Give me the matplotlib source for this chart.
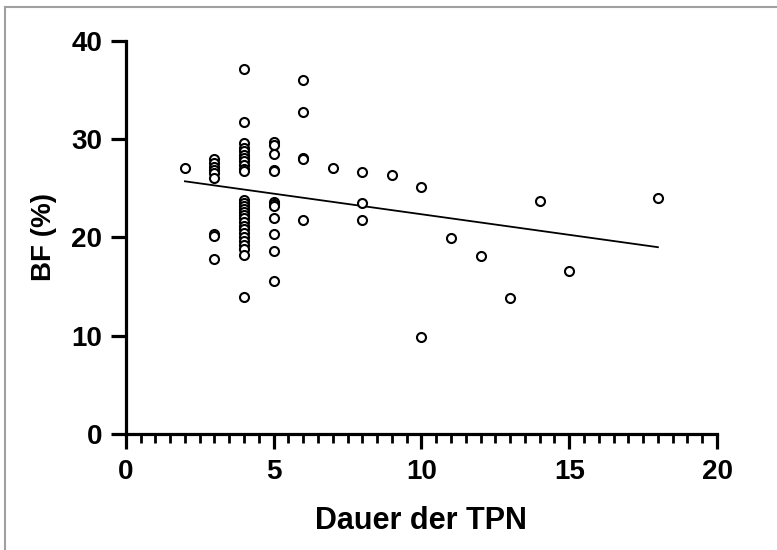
import matplotlib
matplotlib.use('Agg')
import matplotlib.pyplot as plt
from matplotlib.lines import Line2D
from matplotlib.ticker import MultipleLocator

plt.rcParams['font.family'] = ['Liberation Sans', 'DejaVu Sans']
plt.rcParams['font.weight'] = 'bold'

# Dauer der TPN (x) und BF % (y)
dauer = ([2] +
         [3] * 9 +
         [4] * 28 +
         [5] * 12 +
         [6] * 5 +
         [7] + [8] * 3 + [9] + [10] * 2 + [11, 12, 13, 14, 15, 18])
bf = ([27.1] +
      [28.0, 27.6, 27.2, 26.8, 26.5, 26.0, 20.3, 20.1, 17.8] +
      [37.1, 31.7, 29.6, 29.1, 28.8, 28.4, 28.1, 27.8, 27.4, 27.0, 26.7,
       23.8, 23.5, 23.2, 22.9, 22.6, 22.3, 22.0, 21.6, 21.2, 20.8, 20.4,
       20.0, 19.6, 19.2, 18.8, 18.2, 13.9] +
      [29.7, 29.4, 28.5, 26.9, 26.7, 23.6, 23.4, 23.2, 22.0, 20.3, 18.6, 15.6] +
      [36.0, 32.7, 28.1, 28.0, 21.8] +
      [27.1] + [26.6, 23.5, 21.8] + [26.3] + [25.1, 9.9] +
      [19.9, 18.1, 13.8, 23.7, 16.6, 24.0])

fit_x = [2, 18]
fit_y = [25.7, 19.0]

x_ticks = [0, 5, 10, 15, 20]
y_ticks = [0, 10, 20, 30, 40]

fig = plt.figure(figsize=(7.77, 5.5), dpi=100)
ax = fig.add_axes([0.1619, 0.2109, 0.9228 - 0.1619, 0.926 - 0.2109])

ax.plot(dauer, bf, 'o', mfc='white', mec='black', ms=6.5, mew=1.5, clip_on=False, zorder=3)
ax.plot(fit_x, fit_y, color='black', linewidth=1.3, zorder=2)

ax.set_xlim(0, 20)
ax.set_ylim(0, 40)
ax.set_xticks(x_ticks)
ax.set_yticks(y_ticks)
ax.xaxis.set_minor_locator(MultipleLocator(0.5))

for s in ['top', 'right']:
    ax.spines[s].set_visible(False)
for s in ['left', 'bottom']:
    ax.spines[s].set_linewidth(2.3)

ax.tick_params(axis='both', which='major', length=11, width=2.3, labelsize=20)
ax.tick_params(axis='x', which='major', pad=7)
ax.tick_params(axis='y', which='major', pad=6)
ax.tick_params(axis='x', which='minor', length=6.5, width=2.0)

ax.set_xlabel('Dauer der TPN', fontsize=22, fontweight='bold', labelpad=15)
ax.set_ylabel('BF (%)', fontsize=20, fontweight='bold', labelpad=10)

# grauer Rahmen oben und links
fig.add_artist(Line2D([0.0058, 1.0], [0.988, 0.988], transform=fig.transFigure, color='#a0a0a0', lw=1.5))
fig.add_artist(Line2D([0.0058, 0.0058], [0.0, 0.988], transform=fig.transFigure, color='#a0a0a0', lw=1.5))

fig.savefig('out.png', dpi=100)
